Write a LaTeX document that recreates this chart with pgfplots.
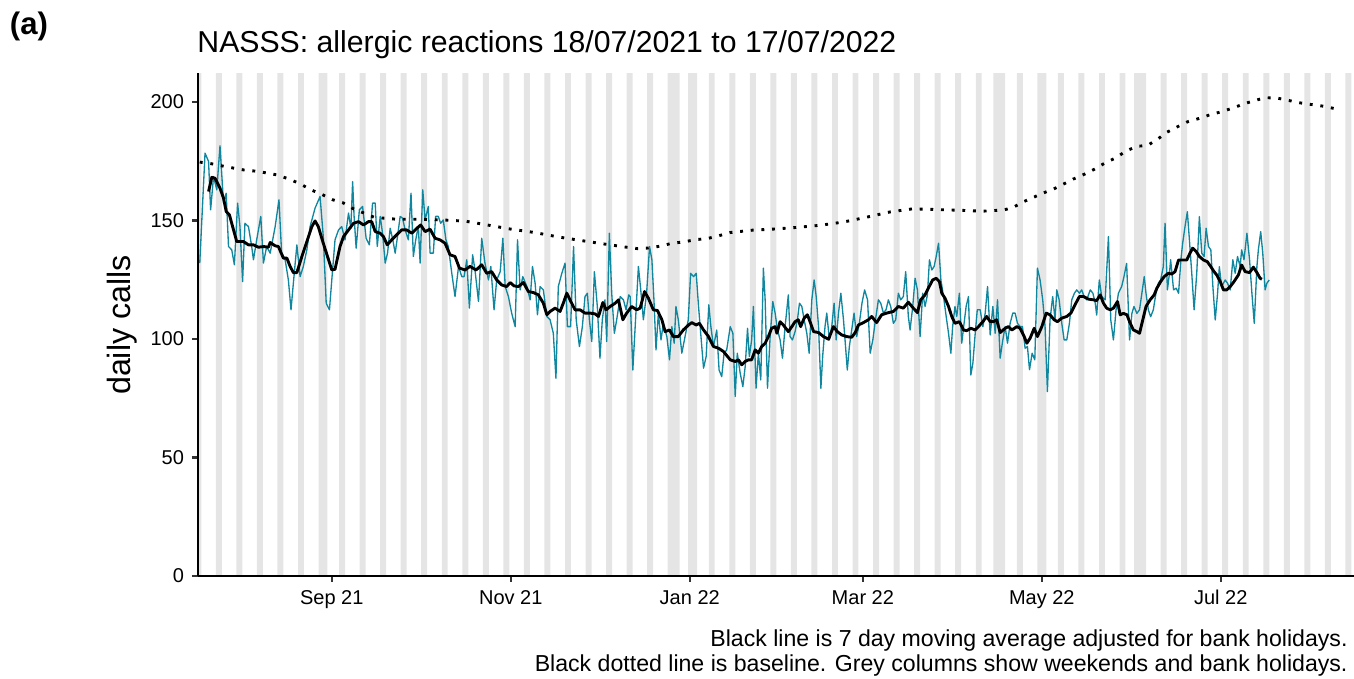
\documentclass[border=0pt]{standalone}
\usepackage{fontspec}
\setmainfont{Liberation Sans}
\usepackage{pgfplots}
\pgfplotsset{compat=1.18}
\definecolor{callteal}{RGB}{16,135,158}
\definecolor{wkgrey}{RGB}{229,229,229}
\begin{document}
\begin{tikzpicture}
\path[use as bounding box] (-89.1pt,-45.9pt) rectangle (520.2pt,259.2pt);
\begin{axis}[
  scale only axis, width=520.2pt, height=226.35pt,
  xmin=-0.6, xmax=393.4, ymin=0, ymax=212.2,
  axis x line*=bottom, axis y line*=left,
  axis line style={line width=1.1pt, black, -},
  xtick={45,106,167,226,287,348},
  xticklabels={Sep 21,Nov 21,Jan 22,Mar 22,May 22,Jul 22},
  ytick={0,50,100,150,200},
  tick align=outside, major tick length=2.8pt,
  tick style={line width=1pt, black!80},
  ticklabel style={font=\fontsize{9}{10}\selectfont},
  /pgf/number format/assume math mode=true,
  axis on top,
]
% weekends and bank holidays (day 0 = 18/07/2021)
\addplot[ybar, bar width=1.03, fill=wkgrey, draw=none] coordinates {
(0,215) (6,215) (7,215) (13,215) (14,215) (20,215) (21,215) (27,215) (28,215)
(34,215) (35,215) (41,215) (42,215) (43,215) (48,215) (49,215) (55,215) (56,215)
(62,215) (63,215) (69,215) (70,215) (76,215) (77,215) (83,215) (84,215)
(90,215) (91,215) (97,215) (98,215) (104,215) (105,215) (111,215) (112,215)
(118,215) (119,215) (125,215) (126,215) (132,215) (133,215) (139,215) (140,215)
(146,215) (147,215) (153,215) (154,215) (160,215) (161,215) (162,215) (163,215)
(167,215) (168,215) (169,215) (174,215) (175,215) (181,215) (182,215)
(188,215) (189,215) (195,215) (196,215) (202,215) (203,215) (209,215) (210,215)
(216,215) (217,215) (223,215) (224,215) (230,215) (231,215) (237,215) (238,215)
(244,215) (245,215) (251,215) (252,215) (258,215) (259,215) (265,215) (266,215)
(271,215) (272,215) (273,215) (274,215) (279,215) (280,215) (286,215) (287,215) (288,215)
(293,215) (294,215) (300,215) (301,215) (307,215) (308,215) (314,215) (315,215)
(319,215) (320,215) (321,215) (322,215) (328,215) (329,215) (335,215) (336,215)
(342,215) (343,215) (349,215) (350,215) (356,215) (357,215) (363,215) (364,215)
(370,215) (371,215) (377,215) (378,215) (384,215) (385,215) (391,215) (392,215)
};
% daily calls
\addplot[callteal, line width=0.6pt, line join=round] coordinates {
(0.0,132.0) (1.8,178.4) (3.0,174.9) (3.7,154.5) (4.7,168.5) (5.8,162.9) (6.9,181.5) (8.1,157.3)
(9.0,161.5) (9.8,139.0) (10.9,137.6) (11.8,131.3) (12.9,157.3) (13.7,147.4) (14.6,124.2) (15.4,148.8)
(16.6,147.4) (17.7,139.0) (18.3,133.4) (19.4,141.8) (20.8,151.7) (21.7,132.0) (22.8,139.0) (24.0,136.2)
(25.7,147.4) (27.0,158.7) (27.9,136.2) (29.1,133.4) (30.2,124.9) (31.1,112.3) (31.9,123.5) (33.1,139.7)
(34.2,126.3) (35.3,130.6) (36.5,137.6) (37.6,147.4) (39.3,155.2) (41.0,160.1) (42.1,143.2) (43.1,115.1)
(44.2,112.3) (45.0,124.9) (46.1,141.8) (47.3,146.0) (48.4,147.4) (49.5,141.8) (50.7,153.1) (51.5,146.7)
(52.1,166.4) (52.6,151.7) (53.3,138.3) (54.4,154.5) (55.5,155.9) (56.7,142.5) (57.8,139.7) (58.9,157.3)
(59.8,157.3) (60.5,139.0) (61.5,151.7) (62.3,144.6) (63.2,132.0) (64.0,136.2) (64.9,146.7) (65.8,141.8)
(66.6,136.2) (67.4,143.2) (68.3,151.7) (69.1,151.0) (70.0,146.0) (71.1,141.8) (72.0,161.5) (72.8,134.8)
(73.6,141.8) (74.5,147.4) (75.1,132.0) (76.0,162.9) (76.8,150.2) (77.9,155.9) (78.5,136.2) (79.6,136.2)
(80.4,151.7) (81.3,151.7) (82.1,148.8) (83.0,150.2) (83.9,141.8) (84.7,139.0) (85.9,127.7) (87.0,117.9)
(88.2,130.6) (89.3,126.3) (90.1,126.3) (91.0,133.4) (91.9,113.0) (93.0,135.5) (93.8,129.1) (95.0,115.8)
(96.1,142.5) (97.2,132.0) (98.4,124.9) (99.2,130.6) (100.3,112.3) (101.2,124.9) (102.4,128.4) (103.3,142.5)
(104.1,122.1) (105.2,117.9) (106.3,110.9) (107.5,105.2) (108.3,141.8) (109.2,120.7) (110.1,126.3) (111.5,122.1)
(112.6,116.5) (113.4,130.6) (114.3,123.5) (115.1,110.2) (116.0,122.1) (117.1,120.7) (118.3,109.5) (119.4,108.1)
(120.5,102.4) (121.4,83.4) (122.2,122.1) (123.4,127.7) (124.5,132.0) (125.3,105.2) (126.4,105.2) (127.4,139.0)
(128.3,108.1) (129.4,96.8) (130.4,105.2) (131.3,117.9) (132.1,119.3) (132.8,108.1) (133.6,98.9) (134.5,128.4)
(135.5,113.7) (136.4,91.9) (137.2,108.1) (138.1,116.5) (138.7,98.9) (139.6,144.6) (140.4,119.3) (141.3,102.4)
(142.1,108.1) (143.3,117.9) (144.4,116.5) (145.3,112.3) (146.2,118.6) (146.7,117.9) (147.6,86.9) (148.4,105.2)
(149.5,130.6) (150.3,120.7) (151.2,108.1) (152.3,119.3) (153.3,139.0) (154.1,133.4) (154.8,116.5) (155.5,95.4)
(156.3,110.9) (157.2,99.6) (158.0,106.6) (159.2,101.0) (160.1,91.2) (160.9,105.2) (161.7,98.2) (162.3,113.7)
(163.1,108.1) (164.3,94.0) (165.4,101.0) (166.5,108.1) (167.3,127.7) (168.3,126.3) (169.2,127.7) (170.0,113.7)
(171.1,96.8) (171.7,87.7) (172.6,92.6) (173.5,114.4) (174.2,105.2) (175.1,96.8) (176.2,103.8) (177.0,86.9)
(177.9,84.1) (178.7,94.0) (179.6,95.4) (180.8,105.2) (181.7,102.4) (182.5,75.7) (183.2,94.0) (184.2,85.5)
(185.1,79.9) (185.9,88.4) (186.7,104.5) (187.3,92.6) (188.1,99.6) (188.7,113.7) (189.6,79.2) (190.4,94.0)
(191.2,82.7) (192.1,129.9) (192.7,116.5) (193.5,79.2) (194.4,101.0) (195.3,115.8) (196.1,110.9) (196.9,103.8)
(197.8,99.6) (198.6,91.9) (199.5,105.2) (200.6,118.6) (201.2,101.0) (202.0,99.6) (202.9,103.1) (203.7,108.1)
(204.4,115.1) (205.2,113.7) (206.0,108.1) (206.9,102.4) (207.7,94.0) (208.6,116.5) (209.4,124.9) (210.1,117.9)
(210.9,105.2) (211.7,79.2) (212.3,92.6) (213.1,105.2) (213.7,110.9) (214.6,99.6) (215.4,105.2) (216.2,115.1)
(216.9,99.6) (217.7,110.9) (218.5,119.3) (219.4,108.1) (220.1,96.8) (220.7,86.9) (221.4,96.8) (222.2,103.8)
(223.0,110.9) (223.9,101.0) (224.8,106.6) (225.7,115.1) (226.6,120.7) (227.6,116.5) (228.5,94.0) (229.4,99.6)
(230.3,108.1) (231.3,116.5) (232.1,115.1) (233.0,110.9) (233.9,112.3) (234.7,116.5) (235.5,113.7) (236.4,106.6)
(237.2,108.1) (238.1,119.3) (238.9,116.5) (239.8,117.9) (240.6,128.4) (241.5,109.5) (242.1,103.8) (243.0,113.7)
(243.8,125.6) (244.6,120.7) (245.5,101.0) (246.4,119.3) (247.2,113.7) (248.0,118.6) (248.7,133.4) (249.5,129.1)
(250.3,130.6) (251.0,134.8) (251.8,140.4) (252.6,124.9) (253.5,117.9) (254.4,109.5) (255.2,102.4) (256.0,94.0)
(256.6,105.2) (257.4,113.7) (258.0,109.5) (258.9,119.3) (259.7,98.2) (260.5,106.6) (261.2,113.7) (262.0,117.9)
(262.8,84.8) (263.5,89.8) (264.3,102.4) (265.0,112.3) (266.0,112.3) (266.9,105.2) (267.7,110.9) (268.5,122.1)
(269.4,101.7) (270.3,113.7) (271.1,102.4) (271.9,116.5) (272.8,91.9) (273.7,99.6) (274.5,105.2) (275.3,98.2)
(276.2,106.6) (277.1,110.9) (277.9,110.9) (278.7,106.6) (279.6,105.2) (280.4,105.2) (281.3,96.1) (282.1,96.8)
(282.8,87.0) (283.7,94.0) (284.6,91.2) (285.5,129.9) (286.4,124.9) (287.3,116.5) (288.1,105.2) (288.9,77.8)
(289.8,108.1) (290.7,117.9) (291.5,108.1) (292.1,120.7) (292.9,116.5) (293.8,106.6) (294.6,99.6) (295.5,99.6)
(296.4,106.6) (297.2,116.5) (298.1,119.3) (298.9,120.7) (299.8,119.3) (300.6,120.7) (301.4,117.9) (302.3,116.5)
(303.5,120.7) (304.4,119.3) (305.2,115.1) (305.7,110.1) (306.6,124.9) (307.4,117.9) (308.6,116.5) (309.7,143.2)
(310.5,108.0) (311.4,99.6) (312.3,112.3) (313.1,119.3) (314.2,122.1) (315.0,126.3) (315.9,131.9) (316.9,99.6)
(317.7,110.8) (318.4,113.7) (319.4,110.8) (320.3,112.3) (321.1,119.3) (321.9,126.3) (322.5,119.3) (323.3,112.3)
(324.1,109.4) (325.0,112.3) (325.9,119.3) (326.7,123.5) (327.5,124.9) (328.4,130.5) (329.0,148.8) (329.8,120.7)
(330.5,127.7) (330.9,133.4) (331.9,120.7) (332.8,121.4) (333.6,119.3) (334.4,133.4) (335.0,140.4) (335.8,147.4)
(336.6,153.7) (337.3,141.8) (338.1,127.7) (338.9,112.3) (339.8,127.7) (340.7,151.6) (341.5,136.2) (342.3,134.8)
(343.0,146.7) (343.8,139.0) (344.6,137.6) (345.3,122.1) (346.1,108.0) (346.9,119.3) (347.5,130.5) (348.3,122.1)
(349.5,124.9) (350.3,123.5) (351.2,120.7) (352.1,133.4) (352.9,127.7) (353.7,134.8) (354.6,130.5) (355.1,137.6)
(355.9,133.4) (356.9,144.6) (357.8,133.4) (358.6,119.3) (359.4,106.6) (360.3,130.5) (360.8,137.6) (361.6,145.3)
(362.3,136.2) (363.1,120.7) (363.7,123.5) (364.5,124.9)
};
% baseline
\addplot[black, line width=1.3pt, dash pattern=on 1.3pt off 3.5pt] coordinates {
(0,174.6) (3.3,174.1) (7.2,173.1) (11.0,172.2) (15.0,171.3) (19.0,170.8) (23.0,170.0) (26.7,169.1)
(30.5,167.4) (34.3,165.4) (37.9,162.9) (41.6,161.0) (45.1,158.8) (48.9,157.4) (52.2,155.0) (55.8,153.2)
(59.5,151.3) (67.2,150.5) (75.1,150.5) (82.8,150.2) (90.5,149.7) (98.4,148.0) (106.2,146.3) (114.2,144.9)
(121.9,143.1) (129.6,141.6) (137.6,140.1) (145.5,138.7) (149.2,138.1) (153.2,138.4) (157.2,139.2) (161.0,140.4)
(164.8,140.9) (168.9,141.9) (172.8,142.3) (176.8,143.5) (180.8,144.9) (188.4,145.9) (196.2,146.4) (203.9,147.1)
(211.8,148.0) (219.7,149.4) (227.4,151.4) (235.3,153.6) (243.0,154.9) (250.9,154.6) (258.8,154.3) (266.6,153.9)
(273.9,154.4) (277.1,155.4) (280.4,157.7) (283.9,159.6) (287.3,161.5) (291.1,163.3) (294.5,165.4) (297.8,167.5)
(301.5,169.5) (304.9,171.6) (308.6,174.3) (312.2,176.4) (315.6,179.2) (319.4,181.3) (323.0,181.6) (326.7,184.5)
(329.6,187.2) (333.2,189.5) (336.6,191.6) (340.5,193.0) (344.4,194.6) (348.3,195.9) (352.3,197.5) (355.9,199.2)
(359.6,200.6) (363.3,201.8) (367.3,201.6) (371.2,200.6) (375.0,199.6) (378.9,198.9) (382.9,198.2) (387.5,197.0)
};
% 7 day moving average
\addplot[black, line width=1.3pt, line join=round] coordinates {
(3.0,162.2) (4.1,168.2) (5.2,167.8) (6.9,163.6) (8.1,159.4) (9.0,153.8) (10.1,152.4) (11.2,147.4)
(12.6,141.1) (14.9,141.1) (16.6,139.7) (18.3,139.7) (20.0,138.7) (21.7,139.0) (23.4,138.7) (24.0,140.7)
(25.7,139.3) (26.8,139.0) (28.5,134.1) (29.7,134.1) (30.8,130.6) (31.9,128.0) (33.1,128.0) (34.8,134.8)
(36.5,141.1) (38.2,147.4) (39.3,149.8) (40.4,147.4) (42.1,140.4) (43.9,133.4) (45.0,129.1) (46.1,129.4)
(47.8,139.0) (49.0,143.2) (50.7,146.0) (52.4,148.8) (54.1,149.5) (55.8,148.1) (57.5,149.5) (58.6,149.5)
(59.8,145.3) (61.5,144.6) (62.6,143.2) (63.9,139.7) (65.4,141.8) (67.1,143.9) (68.8,146.0) (70.5,146.0)
(72.3,144.6) (74.0,146.7) (75.3,148.1) (76.8,145.3) (78.5,146.3) (80.2,142.5) (81.9,141.8) (83.6,140.4)
(85.3,135.5) (87.0,134.8) (88.5,129.9) (90.4,129.1) (92.1,130.6) (94.2,129.1) (96.1,131.3) (97.8,127.7)
(99.5,128.4) (101.2,124.9) (102.9,122.8) (104.6,122.1) (105.8,123.8) (107.1,122.4) (108.6,122.1) (110.3,123.8)
(112.0,120.0) (113.7,119.6) (115.4,118.6) (117.1,115.1) (118.3,110.2) (119.4,111.6) (121.1,113.0) (122.8,111.6)
(123.9,115.1) (125.1,119.3) (126.2,116.5) (127.9,112.3) (129.6,112.3) (131.3,110.9) (133.0,110.9) (134.7,110.6)
(135.9,109.5) (137.4,115.4) (138.5,112.3) (139.9,113.7) (141.6,115.1) (142.7,116.5) (144.2,108.1) (145.5,110.9)
(147.2,113.7) (148.9,112.3) (150.1,113.0) (151.6,120.0) (152.9,117.2) (154.6,112.3) (156.0,112.0) (157.5,108.1)
(158.6,103.1) (160.1,103.8) (161.4,101.0) (163.1,101.0) (164.8,103.8) (166.6,105.9) (167.7,106.9) (169.2,105.9)
(170.3,106.6) (171.7,103.8) (173.4,101.0) (175.1,96.8) (176.8,96.1) (178.5,94.7) (180.8,91.2) (182.5,90.5)
(183.6,91.2) (184.7,89.1) (185.9,90.5) (187.0,91.2) (188.1,91.2) (189.3,95.4) (190.4,94.0) (191.5,96.8)
(192.7,98.2) (193.8,101.0) (194.9,104.5) (196.1,105.2) (196.7,102.4) (197.8,107.3) (198.9,105.9) (200.6,103.1)
(201.8,105.2) (202.9,107.3) (204.0,108.1) (204.8,105.2) (206.0,108.8) (207.1,110.2) (208.0,107.3) (209.2,103.1)
(210.9,102.7) (212.6,101.0) (214.3,99.9) (216.0,105.2) (217.3,103.1) (218.8,101.7) (220.5,101.0) (222.2,100.7)
(223.4,102.7) (224.5,105.9) (226.2,106.9) (227.9,108.1) (229.0,109.5) (230.7,106.9) (232.4,110.2) (234.1,110.9)
(236.4,111.6) (238.1,113.7) (239.8,113.0) (241.5,115.5) (243.2,113.0) (244.6,111.1) (245.7,116.5) (247.2,118.6)
(248.3,121.4) (249.8,124.9) (251.0,125.6) (252.1,124.2) (252.9,119.3) (254.0,117.2) (255.2,113.7) (256.3,109.5)
(257.4,106.6) (258.9,107.3) (260.3,103.8) (261.4,103.5) (262.8,104.5) (264.3,103.8) (265.4,105.2) (266.9,107.3)
(268.2,109.5) (269.4,107.3) (270.5,107.3) (271.6,108.1) (272.8,102.7) (274.5,104.5) (275.6,105.2) (276.8,103.8)
(278.5,105.2) (279.6,104.5) (281.0,101.0) (281.9,98.2) (283.0,100.3) (284.4,104.5) (285.5,101.0) (287.0,105.2)
(288.5,110.9) (289.8,110.2) (291.2,108.1) (292.3,107.3) (293.8,108.8) (295.5,109.5) (296.9,110.9) (298.3,114.4)
(299.8,117.9) (301.2,117.9) (302.9,116.8) (304.6,116.5) (305.7,116.2) (306.9,118.6) (308.0,115.1) (309.1,113.0)
(310.3,112.3) (311.4,113.0) (312.8,115.8) (313.7,110.2) (314.8,110.8) (316.0,110.2) (316.9,107.3) (318.2,103.8)
(319.4,103.1) (320.3,102.4) (321.4,108.0) (322.5,113.7) (323.9,116.5) (325.3,118.6) (326.2,121.4) (327.5,124.2)
(328.7,126.3) (330.1,127.7) (331.3,127.4) (332.4,128.4) (333.6,133.3) (334.7,133.3) (336.4,133.3) (337.5,136.2)
(338.4,138.3) (339.6,136.9) (340.7,134.8) (342.1,133.3) (343.4,132.6) (344.6,130.5) (345.7,128.4) (346.6,127.0)
(347.8,124.2) (348.9,120.7) (350.0,120.7) (351.2,122.1) (352.5,124.2) (354.0,127.0) (355.1,131.2) (356.3,128.4)
(357.8,128.0) (359.1,130.3) (360.3,128.0) (361.4,125.6) (362.0,125.2)
};
\end{axis}
\node[anchor=center, font=\fontsize{14}{16}\selectfont\bfseries] at (-76.05pt,247.5pt) {(a)};
\node[anchor=base west, inner sep=0pt, font=\fontsize{13.6}{15}\selectfont] at (-0.45pt,235.35pt) {NASSS: allergic reactions 18/07/2021 to 17/07/2022};
\node[rotate=90, anchor=base, inner sep=0pt, font=\fontsize{14.5}{16}\selectfont] at (-30.3pt,112.95pt) {daily calls};
\node[anchor=base east, inner sep=0pt, font=\fontsize{10.4}{12}\selectfont] at (517.5pt,-31.8pt) {Black line is 7 day moving average adjusted for bank holidays.};
\node[anchor=base east, inner sep=0pt, font=\fontsize{10.4}{12}\selectfont] at (517.5pt,-43.1pt) {Black dotted line is baseline. Grey columns show weekends and bank holidays.};
\end{tikzpicture}
\end{document}
